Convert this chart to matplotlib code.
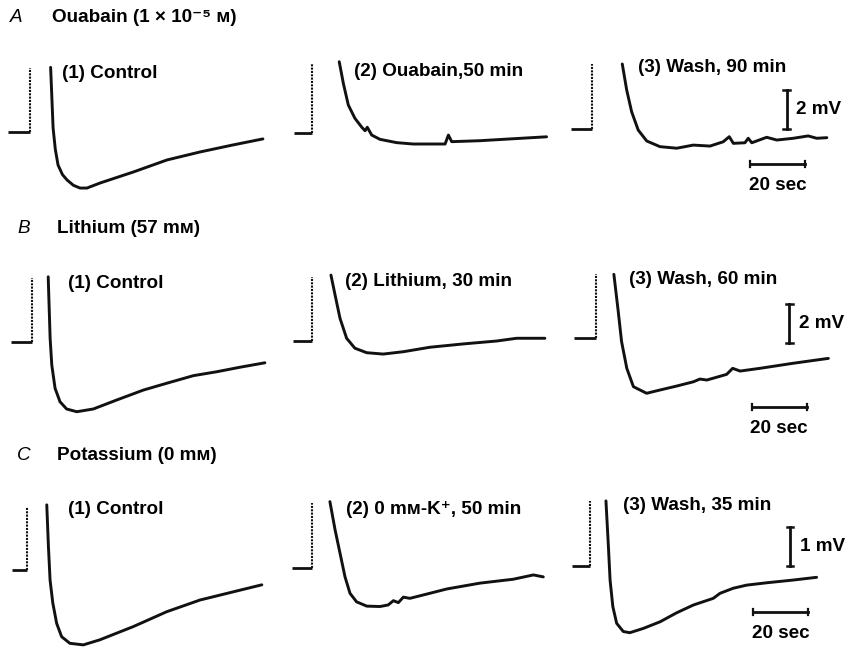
import matplotlib.pyplot as plt

# traces: time after stimulus (s), potential re. baseline (mV)

# A  ouabain
a1_t = [7.5, 8.4, 9.2, 10.2, 11.8, 13.5, 15.8, 18.2, 20.7, 25.5, 37.5, 49.8, 61.8, 73.8, 84.7]
a1_v = [3.3, 0.19, -0.9, -1.71, -2.2, -2.48, -2.75, -2.89, -2.89, -2.63, -2.07, -1.45, -1.04, -0.68, -0.37]
a2_t = [9.9, 11.4, 13.2, 15.6, 18.1, 19.3, 20.1, 21.7, 24.7, 30.8, 36.8, 42.9, 48.4, 49.6, 50.8, 61.1, 73.2, 85.3]
a2_v = [3.64, 2.53, 1.42, 0.74, 0.28, 0.10, 0.28, -0.12, -0.34, -0.51, -0.58, -0.58, -0.58, -0.12, -0.46, -0.41, -0.31, -0.21]
a3_t = [10.9, 12.5, 14.3, 16.7, 19.8, 24.6, 30.7, 36.7, 42.8, 47.6, 49.8, 51.3, 55.5, 56.7, 58.0, 63.4, 67.1, 73.1, 78.5, 81.6, 85.3]
a3_v = [3.35, 2.02, 0.90, -0.04, -0.60, -0.89, -0.97, -0.81, -0.86, -0.64, -0.38, -0.72, -0.69, -0.46, -0.69, -0.41, -0.55, -0.46, -0.34, -0.46, -0.43]

# B  lithium
b1_t = [6.0, 6.7, 7.3, 8.5, 10.3, 12.7, 16.4, 22.4, 30.9, 40.6, 49.1, 58.8, 67.3, 75.7, 84.8]
b1_v = [3.36, 0.21, -1.16, -2.36, -3.05, -3.42, -3.56, -3.42, -2.96, -2.45, -2.10, -1.71, -1.51, -1.28, -1.05]
b2_t = [7.0, 8.5, 10.3, 12.7, 15.7, 20.0, 26.0, 33.3, 43.0, 55.1, 67.3, 74.5, 84.8]
b2_v = [3.38, 2.36, 1.16, 0.14, -0.37, -0.60, -0.67, -0.55, -0.32, -0.15, 0.0, 0.14, 0.14]
b3_t = [6.5, 8.1, 9.3, 11.2, 13.6, 18.4, 23.3, 29.3, 35.4, 37.8, 40.3, 47.5, 49.7, 52.4, 59.6, 71.7, 84.5]
b3_v = [3.28, 1.36, -0.17, -1.54, -2.48, -2.82, -2.65, -2.45, -2.23, -2.09, -2.14, -1.85, -1.54, -1.68, -1.54, -1.28, -1.03]

# C  potassium free
c1_t = [7.3, 7.9, 8.5, 9.5, 10.9, 12.7, 15.7, 20.6, 26.6, 38.8, 50.9, 63.0, 75.1, 85.5]
c1_v = [1.67, 0.60, -0.26, -0.85, -1.37, -1.71, -1.88, -1.92, -1.79, -1.45, -1.07, -0.77, -0.56, -0.38]
c2_t = [6.4, 8.3, 10.1, 11.9, 13.7, 16.1, 19.8, 24.6, 27.6, 29.5, 31.3, 33.1, 35.5, 42.8, 48.9, 61.0, 73.1, 80.4, 84.0]
c2_v = [1.71, 0.98, 0.38, -0.22, -0.64, -0.86, -0.97, -0.98, -0.94, -0.83, -0.88, -0.74, -0.77, -0.64, -0.53, -0.38, -0.28, -0.17, -0.22]
c3_t = [5.8, 6.7, 7.3, 8.3, 9.7, 12.1, 14.5, 19.4, 25.5, 31.5, 37.6, 44.8, 47.3, 52.1, 57.0, 64.3, 73.9, 82.4]
c3_v = [1.67, 0.49, -0.36, -1.04, -1.47, -1.68, -1.71, -1.60, -1.43, -1.20, -1.00, -0.83, -0.70, -0.57, -0.49, -0.43, -0.36, -0.29]

# baseline start (s) and height of the stimulus artefact (mV) for each panel
base_start = [[-8.0, -6.5, -7.9], [-7.6, -6.9, -8.0], [-5.5, -7.5, -6.7]]
artefact_top = [[3.27, 3.52, 3.35], [3.31, 3.30, 3.28], [1.62, 1.68, 1.67]]

traces = [[(a1_t, a1_v), (a2_t, a2_v), (a3_t, a3_v)],
          [(b1_t, b1_v), (b2_t, b2_v), (b3_t, b3_v)],
          [(c1_t, c1_v), (c2_t, c2_v), (c3_t, c3_v)]]

row_letters = ['A', 'B', 'C']
row_titles = ['Ouabain (1 × 10⁻⁵ м)', 'Lithium (57 mм)', 'Potassium (0 mм)']
panel_labels = [['(1) Control', '(2) Ouabain,50 min', '(3) Wash, 90 min'],
                ['(1) Control', '(2) Lithium, 30 min', '(3) Wash, 60 min'],
                ['(1) Control', '(2) 0 mм-K⁺, 50 min', '(3) Wash, 35 min']]
volt_bar = [2, 2, 1]     # mV
time_bar = 20            # sec

# --- layout (pixels in an 846x647 image) ---
W, H = 846, 647
SX = 2.75                       # px per second
SY = [19.5, 19.5, 39.0]         # px per mV
origins = [[(30, 131.7), (312, 132.7), (592.3, 129.3)],
           [(31.7, 342.3), (311.7, 341), (596, 338.3)],
           [(26.7, 570), (312.3, 568.3), (590, 566)]]
label_pos = [[(62, 73), (354, 72), (638, 68)],
             [(68, 284), (345, 282), (629, 280)],
             [(68, 510), (346, 509), (623, 506)]]
header_pos = [(10, 52, 17), (17, 57, 228), (17, 57, 455)]
vbar_pos = [(70.7, 0.0), (70.3, -0.26), (72.7, 0.0)]
hbar_pos = [(57.3, -1.76), (56.6, -3.51), (59.4, -1.17)]

XLIM = (-12, 92)
FS = 13.6

plt.rcParams['font.family'] = ['Liberation Sans', 'DejaVu Sans']
fig = plt.figure(figsize=(W / 100, H / 100), dpi=100)
ink = '#111111'

for r in range(3):
    ylim = (-4.5, 4.0) if r < 2 else (-2.3, 2.0)
    for c in range(3):
        x0, y0 = origins[r][c]
        left = x0 + XLIM[0] * SX
        right = x0 + XLIM[1] * SX
        top = y0 - ylim[1] * SY[r]
        bottom = y0 - ylim[0] * SY[r]
        ax = fig.add_axes([left / W, 1 - bottom / H, (right - left) / W, (bottom - top) / H])
        ax.set_xlim(XLIM)
        ax.set_ylim(ylim)
        ax.axis('off')
        ax.patch.set_alpha(0)

        t, v = traces[r][c]
        ax.plot([base_start[r][c], 0], [0, 0], color=ink, lw=2.0, solid_capstyle='butt', clip_on=False)
        ax.plot([0, 0], [0, artefact_top[r][c]], color=ink, lw=1.5, ls=(0, (1.0, 0.6)), clip_on=False)
        ax.plot(t, v, color=ink, lw=2.1, solid_joinstyle='round', solid_capstyle='round', clip_on=False)

        if c == 2:
            # voltage and time calibration
            vt, vy = vbar_pos[r]
            ax.plot([vt, vt], [vy, vy + volt_bar[r]], color=ink, lw=2.0, clip_on=False)
            for yy in (vy, vy + volt_bar[r]):
                ax.plot([vt - 1.2, vt + 1.2], [yy, yy], color=ink, lw=1.8, clip_on=False)
            ax.text(vt + 3.5, vy + volt_bar[r] / 2, f'{volt_bar[r]} mV', fontsize=FS,
                    fontweight='bold', ha='left', va='center')
            ht, hy = hbar_pos[r]
            ax.plot([ht, ht + time_bar], [hy, hy], color=ink, lw=2.0, clip_on=False)
            dy = 3.0 / SY[r]
            for xx in (ht, ht + time_bar):
                ax.plot([xx, xx], [hy - dy, hy + dy], color=ink, lw=1.6, clip_on=False)
            ax.text(ht + time_bar / 2, hy - 22 / SY[r], f'{time_bar} sec', fontsize=FS,
                    fontweight='bold', ha='center', va='center')

        lx, ly = label_pos[r][c]
        fig.text(lx / W, 1 - ly / H, panel_labels[r][c], fontsize=FS, fontweight='bold',
                 ha='left', va='center')

    hx, tx, hy = header_pos[r]
    fig.text(hx / W, 1 - hy / H, row_letters[r], fontsize=FS, style='italic',
             ha='left', va='center')
    fig.text(tx / W, 1 - hy / H, row_titles[r], fontsize=FS, fontweight='bold',
             ha='left', va='center')

fig.savefig('out.png', dpi=100)
